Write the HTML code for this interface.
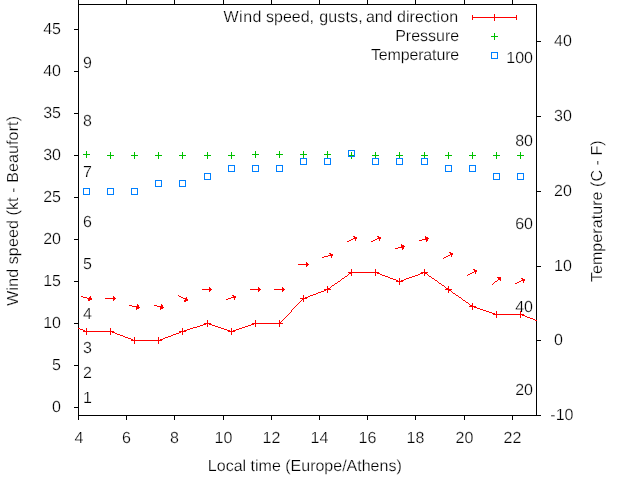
<!DOCTYPE html>
<html><head><meta charset="utf-8"><title>Wind speed, gusts, and direction</title>
<style>html,body{margin:0;padding:0;background:#fff}</style></head>
<body>
<svg width="640" height="480" viewBox="0 0 640 480" style="display:block">
<rect width="640" height="480" fill="#fff"/>
<g stroke="#000" stroke-width="1" fill="none" shape-rendering="crispEdges">
<rect x="78.5" y="4.5" width="458" height="411"/>
<path d="M78.5 415V420M78.5 5V0"/>
<path d="M126.5 415V420M126.5 5V0"/>
<path d="M174.5 415V420M174.5 5V0"/>
<path d="M223.5 415V420M223.5 5V0"/>
<path d="M271.5 415V420M271.5 5V0"/>
<path d="M319.5 415V420M319.5 5V0"/>
<path d="M367.5 415V420M367.5 5V0"/>
<path d="M415.5 415V420M415.5 5V0"/>
<path d="M464.5 415V420M464.5 5V0"/>
<path d="M512.5 415V420M512.5 5V0"/>
<path d="M78 407.5H74"/>
<path d="M78 365.5H74"/>
<path d="M78 323.5H74"/>
<path d="M78 281.5H74"/>
<path d="M78 239.5H74"/>
<path d="M78 197.5H74"/>
<path d="M78 155.5H74"/>
<path d="M78 113.5H74"/>
<path d="M78 71.5H74"/>
<path d="M78 29.5H74"/>
<path d="M537 415.5H541"/>
<path d="M537 340.5H541"/>
<path d="M537 266.5H541"/>
<path d="M537 191.5H541"/>
<path d="M537 116.5H541"/>
<path d="M537 41.5H541"/>
</g>
<g font-family="Liberation Sans, Arial, sans-serif" font-size="16" fill="#000" stroke="#fff" stroke-width="0.25" style="text-rendering:geometricPrecision">
<text transform="translate(79.00,443.00) scale(1,1)" text-anchor="middle">4</text>
<text transform="translate(126.50,443.00) scale(1,1)" text-anchor="middle">6</text>
<text transform="translate(174.50,443.00) scale(1,1)" text-anchor="middle">8</text>
<text transform="translate(223.50,443.00) scale(1,1)" text-anchor="middle">10</text>
<text transform="translate(271.50,443.00) scale(1,1)" text-anchor="middle">12</text>
<text transform="translate(319.50,443.00) scale(1,1)" text-anchor="middle">14</text>
<text transform="translate(367.50,443.00) scale(1,1)" text-anchor="middle">16</text>
<text transform="translate(415.50,443.00) scale(1,1)" text-anchor="middle">18</text>
<text transform="translate(464.50,443.00) scale(1,1)" text-anchor="middle">20</text>
<text transform="translate(512.50,443.00) scale(1,1)" text-anchor="middle">22</text>
<text transform="translate(61.00,412.00) scale(1,1)" text-anchor="end">0</text>
<text transform="translate(61.00,370.00) scale(1,1)" text-anchor="end">5</text>
<text transform="translate(61.00,328.00) scale(1,1)" text-anchor="end">10</text>
<text transform="translate(61.00,286.00) scale(1,1)" text-anchor="end">15</text>
<text transform="translate(61.00,244.00) scale(1,1)" text-anchor="end">20</text>
<text transform="translate(61.00,202.00) scale(1,1)" text-anchor="end">25</text>
<text transform="translate(61.00,160.00) scale(1,1)" text-anchor="end">30</text>
<text transform="translate(61.00,118.00) scale(1,1)" text-anchor="end">35</text>
<text transform="translate(61.00,76.00) scale(1,1)" text-anchor="end">40</text>
<text transform="translate(61.00,34.00) scale(1,1)" text-anchor="end">45</text>
<text transform="translate(550.30,420.00) scale(1,1)">-10</text>
<text transform="translate(554.00,345.00) scale(1,1)">0</text>
<text transform="translate(554.00,271.00) scale(1,1)">10</text>
<text transform="translate(554.00,196.00) scale(1,1)">20</text>
<text transform="translate(554.00,121.00) scale(1,1)">30</text>
<text transform="translate(554.00,46.00) scale(1,1)">40</text>
<text transform="translate(83.00,403.00) scale(1,1)">1</text>
<text transform="translate(83.00,378.00) scale(1,1)">2</text>
<text transform="translate(83.00,353.00) scale(1,1)">3</text>
<text transform="translate(83.00,319.00) scale(1,1)">4</text>
<text transform="translate(83.00,269.00) scale(1,1)">5</text>
<text transform="translate(83.00,227.00) scale(1,1)">6</text>
<text transform="translate(83.00,177.00) scale(1,1)">7</text>
<text transform="translate(83.00,126.00) scale(1,1)">8</text>
<text transform="translate(83.00,68.00) scale(1,1)">9</text>
<text transform="translate(533.00,395.00) scale(1,1)" text-anchor="end">20</text>
<text transform="translate(533.00,312.00) scale(1,1)" text-anchor="end">40</text>
<text transform="translate(533.00,229.00) scale(1,1)" text-anchor="end">60</text>
<text transform="translate(533.00,146.00) scale(1,1)" text-anchor="end">80</text>
<text transform="translate(533.00,63.00) scale(1,1)" text-anchor="end">100</text>
<text transform="translate(304.80,471.00) scale(1,1)" text-anchor="middle">Local time (Europe/Athens)</text>
<text transform="translate(17.70,210.90) rotate(-90) scale(1,1)" text-anchor="middle" textLength="189.75" lengthAdjust="spacing">Wind speed (kt - Beaufort)</text>
<text transform="translate(601.50,211.20) rotate(-90) scale(1,1)" text-anchor="middle" textLength="141.8" lengthAdjust="spacing">Temperature (C - F)</text>
<text y="22"><tspan x="223.4" letter-spacing="0.54">Wind</tspan> <tspan x="266.08" letter-spacing="-0.03">speed,</tspan> <tspan x="319.18" letter-spacing="0.165">gusts,</tspan> <tspan x="365.89" letter-spacing="-0.06">and</tspan> <tspan x="396.98" letter-spacing="0.086">direction</tspan></text>
<text transform="translate(459.20,41.00) scale(1,1)" text-anchor="end">Pressure</text>
<text transform="translate(459.20,60.00) scale(1,1)" text-anchor="end" textLength="88.3" lengthAdjust="spacing">Temperature</text>
</g>
<g stroke="#f00" stroke-width="1" fill="none" shape-rendering="crispEdges">
<path d="M494 14.5H495M472 15.5H473M494 15.5H495M516 15.5H517M472 16.5H473M494 16.5H495M516 16.5H517M472 17.5H517M472 18.5H473M494 18.5H495M516 18.5H517M472 19.5H473M494 19.5H495M516 19.5H517M494 20.5H495M353 236.5H355M377 236.5H379M425 236.5H426M354 237.5H357M378 237.5H381M425 237.5H428M353 238.5H357M377 238.5H381M425 238.5H429M351 239.5H353M355 239.5H356M375 239.5H377M379 239.5H380M422 239.5H428M349 240.5H351M355 240.5H356M373 240.5H375M379 240.5H380M419 240.5H422M426 240.5H428M347 241.5H349M371 241.5H373M426 241.5H427M401 244.5H402M401 245.5H404M401 246.5H405M398 247.5H404M395 248.5H398M402 248.5H404M402 249.5H403M449 252.5H451M329 253.5H331M450 253.5H453M330 254.5H333M450 254.5H453M328 255.5H333M448 255.5H450M451 255.5H452M324 256.5H328M331 256.5H332M446 256.5H448M451 256.5H452M322 257.5H324M331 257.5H332M444 257.5H446M443 258.5H444M306 262.5H307M306 263.5H308M298 264.5H309M306 265.5H308M306 266.5H307M351 269.5H352M375 269.5H376M424 269.5H425M473 269.5H475M351 270.5H352M375 270.5H376M424 270.5H425M474 270.5H477M351 271.5H352M375 271.5H376M424 271.5H425M474 271.5H477M348 272.5H379M421 272.5H428M472 272.5H474M475 272.5H476M349 273.5H352M375 273.5H376M377 273.5H380M420 273.5H423M424 273.5H427M470 273.5H472M475 273.5H476M348 274.5H349M351 274.5H352M375 274.5H376M380 274.5H382M418 274.5H420M424 274.5H425M427 274.5H428M468 274.5H470M347 275.5H348M351 275.5H352M375 275.5H376M382 275.5H385M415 275.5H418M424 275.5H425M428 275.5H429M467 275.5H468M345 276.5H347M385 276.5H388M412 276.5H415M429 276.5H431M344 277.5H345M388 277.5H390M409 277.5H412M431 277.5H432M497 277.5H501M342 278.5H344M390 278.5H393M399 278.5H400M406 278.5H409M432 278.5H434M498 278.5H501M521 278.5H523M341 279.5H342M393 279.5H396M399 279.5H400M404 279.5H406M434 279.5H435M498 279.5H501M522 279.5H525M340 280.5H341M396 280.5H398M399 280.5H400M401 280.5H404M435 280.5H437M497 280.5H498M500 280.5H501M521 280.5H525M338 281.5H340M396 281.5H403M437 281.5H438M495 281.5H497M519 281.5H521M523 281.5H524M337 282.5H338M399 282.5H400M438 282.5H439M494 282.5H495M517 282.5H519M523 282.5H524M335 283.5H337M399 283.5H400M439 283.5H441M493 283.5H494M515 283.5H517M334 284.5H335M399 284.5H400M441 284.5H442M492 284.5H493M332 285.5H334M442 285.5H444M327 286.5H328M331 286.5H332M444 286.5H445M448 286.5H449M209 287.5H210M258 287.5H259M282 287.5H283M327 287.5H328M330 287.5H331M445 287.5H446M448 287.5H449M209 288.5H211M258 288.5H260M282 288.5H284M327 288.5H330M446 288.5H449M202 289.5H212M250 289.5H261M274 289.5H285M324 289.5H331M445 289.5H452M209 290.5H211M258 290.5H260M282 290.5H284M324 290.5H326M327 290.5H328M448 290.5H451M209 291.5H210M258 291.5H259M282 291.5H283M321 291.5H324M327 291.5H328M448 291.5H449M451 291.5H452M318 292.5H321M327 292.5H328M448 292.5H449M452 292.5H453M316 293.5H318M453 293.5H455M313 294.5H316M455 294.5H456M178 295.5H179M232 295.5H234M303 295.5H304M310 295.5H313M456 295.5H458M81 296.5H83M90 296.5H91M113 296.5H114M179 296.5H181M233 296.5H236M303 296.5H304M308 296.5H310M458 296.5H459M83 297.5H87M89 297.5H91M113 297.5H115M181 297.5H183M186 297.5H187M231 297.5H236M303 297.5H304M305 297.5H308M459 297.5H461M87 298.5H92M105 298.5H116M183 298.5H187M228 298.5H231M234 298.5H235M300 298.5H307M461 298.5H462M88 299.5H92M113 299.5H115M185 299.5H188M226 299.5H228M234 299.5H235M302 299.5H304M462 299.5H463M88 300.5H90M113 300.5H114M184 300.5H188M301 300.5H302M303 300.5H304M463 300.5H465M184 301.5H186M300 301.5H301M303 301.5H304M465 301.5H466M299 302.5H300M466 302.5H468M298 303.5H299M468 303.5H469M472 303.5H473M137 304.5H138M161 304.5H162M297 304.5H298M469 304.5H470M472 304.5H473M129 305.5H132M137 305.5H139M154 305.5H157M161 305.5H163M296 305.5H297M470 305.5H473M132 306.5H139M157 306.5H163M295 306.5H296M469 306.5H476M136 307.5H140M160 307.5H164M294 307.5H295M472 307.5H473M474 307.5H477M136 308.5H139M160 308.5H163M293 308.5H294M472 308.5H473M477 308.5H480M136 309.5H137M160 309.5H161M292 309.5H293M472 309.5H473M480 309.5H483M291 310.5H292M483 310.5H486M291 311.5H292M486 311.5H489M496 311.5H497M520 311.5H521M290 312.5H291M489 312.5H492M496 312.5H497M520 312.5H521M289 313.5H290M492 313.5H495M496 313.5H497M520 313.5H521M288 314.5H289M493 314.5H524M287 315.5H288M496 315.5H497M520 315.5H521M522 315.5H525M286 316.5H287M496 316.5H497M520 316.5H521M525 316.5H527M285 317.5H286M496 317.5H497M520 317.5H521M527 317.5H530M284 318.5H285M530 318.5H533M283 319.5H284M533 319.5H535M207 320.5H208M255 320.5H256M279 320.5H280M282 320.5H283M535 320.5H537M207 321.5H208M255 321.5H256M279 321.5H280M281 321.5H282M207 322.5H208M255 322.5H256M279 322.5H281M204 323.5H211M252 323.5H283M203 324.5H206M207 324.5H208M209 324.5H212M251 324.5H254M255 324.5H256M279 324.5H280M200 325.5H203M207 325.5H208M212 325.5H215M248 325.5H251M255 325.5H256M279 325.5H280M197 326.5H200M207 326.5H208M215 326.5H218M245 326.5H248M255 326.5H256M279 326.5H280M193 327.5H197M218 327.5H221M242 327.5H245M78 328.5H80M86 328.5H87M110 328.5H111M182 328.5H183M190 328.5H193M221 328.5H224M231 328.5H232M239 328.5H242M80 329.5H83M86 329.5H87M110 329.5H111M182 329.5H183M187 329.5H190M224 329.5H227M231 329.5H232M236 329.5H239M83 330.5H85M86 330.5H87M110 330.5H111M182 330.5H183M184 330.5H187M227 330.5H230M231 330.5H232M233 330.5H236M83 331.5H114M179 331.5H186M228 331.5H235M86 332.5H87M110 332.5H111M112 332.5H115M179 332.5H181M182 332.5H183M231 332.5H232M86 333.5H87M110 333.5H111M115 333.5H117M176 333.5H179M182 333.5H183M231 333.5H232M86 334.5H87M110 334.5H111M117 334.5H120M173 334.5H176M182 334.5H183M231 334.5H232M120 335.5H123M171 335.5H173M123 336.5H125M168 336.5H171M125 337.5H128M134 337.5H135M158 337.5H159M165 337.5H168M128 338.5H131M134 338.5H135M158 338.5H159M163 338.5H165M131 339.5H133M134 339.5H135M158 339.5H159M160 339.5H163M131 340.5H162M134 341.5H135M158 341.5H159M134 342.5H135M158 342.5H159M134 343.5H135M158 343.5H159"/>
</g>
<g stroke="#00c000" stroke-width="1" fill="none" shape-rendering="crispEdges">
<path d="M83.0 154.5h7M86.5 151.0v7M107.0 155.5h7M110.5 152.0v7M131.0 155.5h7M134.5 152.0v7M155.0 155.5h7M158.5 152.0v7M179.0 155.5h7M182.5 152.0v7M204.0 155.5h7M207.5 152.0v7M228.0 155.5h7M231.5 152.0v7M252.0 154.5h7M255.5 151.0v7M276.0 154.5h7M279.5 151.0v7M300.0 154.5h7M303.5 151.0v7M324.0 154.5h7M327.5 151.0v7M348.0 155.5h7M351.5 152.0v7M372.0 155.5h7M375.5 152.0v7M396.0 155.5h7M399.5 152.0v7M421.0 155.5h7M424.5 152.0v7M445.0 155.5h7M448.5 152.0v7M469.0 155.5h7M472.5 152.0v7M493.0 155.5h7M496.5 152.0v7M517.0 155.5h7M520.5 152.0v7M491.0 36.5h7M494.5 33.0v7"/>
</g>
<g stroke="#0080ff" stroke-width="1" fill="none" shape-rendering="crispEdges">
<rect x="83.5" y="188.5" width="6" height="6"/>
<rect x="107.5" y="188.5" width="6" height="6"/>
<rect x="131.5" y="188.5" width="6" height="6"/>
<rect x="155.5" y="180.5" width="6" height="6"/>
<rect x="179.5" y="180.5" width="6" height="6"/>
<rect x="204.5" y="173.5" width="6" height="6"/>
<rect x="228.5" y="165.5" width="6" height="6"/>
<rect x="252.5" y="165.5" width="6" height="6"/>
<rect x="276.5" y="165.5" width="6" height="6"/>
<rect x="300.5" y="158.5" width="6" height="6"/>
<rect x="324.5" y="158.5" width="6" height="6"/>
<rect x="348.5" y="150.5" width="6" height="6"/>
<rect x="372.5" y="158.5" width="6" height="6"/>
<rect x="396.5" y="158.5" width="6" height="6"/>
<rect x="421.5" y="158.5" width="6" height="6"/>
<rect x="445.5" y="165.5" width="6" height="6"/>
<rect x="469.5" y="165.5" width="6" height="6"/>
<rect x="493.5" y="173.5" width="6" height="6"/>
<rect x="517.5" y="173.5" width="6" height="6"/>
<rect x="491.5" y="52.5" width="6" height="6"/>
</g>
</svg>
</body></html>
